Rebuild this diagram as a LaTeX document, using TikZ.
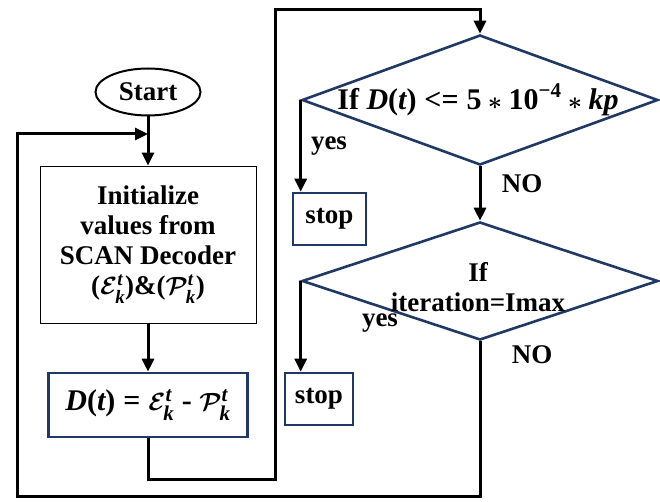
\documentclass[tikz,border=0pt]{standalone}
\usepackage{amsmath,amssymb}
\usepackage{fontspec}
\setmainfont{Liberation Serif}
\usepackage{xcolor}
\usepackage{tikz}
\usetikzlibrary{positioning, shapes.geometric, arrows.meta, calc}
\definecolor{boxblue}{HTML}{203864}
\newcommand{\vbi}[1]{\text{\bfseries\itshape #1}}
\newcommand{\vb}[1]{\text{\bfseries #1}}

\begin{document}
\begin{tikzpicture}[x=1pt, y=-1pt,
    txt/.style={font=\bfseries\boldmath\fontsize{27}{30}\selectfont, inner sep=0pt},
    mathtxt/.style={font=\bfseries\boldmath\fontsize{30}{32}\selectfont, inner sep=0pt},
    startblock/.style={ellipse, draw=black, line width=2pt, minimum width=105pt, minimum height=47pt, txt},
    initblock/.style={rectangle, draw=black, line width=0.8pt, minimum width=216pt, minimum height=157pt, txt, align=center},
    bluebox/.style={rectangle, draw=boxblue, line width=2.6pt, txt},
    decision/.style={diamond, draw=boxblue, line width=2.6pt, minimum width=356pt, minimum height=130pt, inner sep=0pt},
    arr/.style={-{Triangle[length=13pt, width=12pt]}, black, line width=3pt},
    lbl/.style={txt},
]
\useasboundingbox (0,0) rectangle (660,502);

% Left column
\node[startblock] (start) at (148,92) {Start};
\node[initblock] (init) at (148,244.5) {Initialize\\values from\\SCAN Decoder\\(${\mathcal{E}}_{\vbi{k}}^{\vbi{t}}$)\&(${\mathcal{P}}_{\vbi{k}}^{\vbi{t}}$)};
\node[bluebox, mathtxt, minimum width=199pt, minimum height=64pt] (diff) at (148,405) {$\vbi{D}\vb{(}\vbi{t}\vb{)} \mathrel{\vb{=}} \mathcal{E}_{\vbi{k}}^{\vbi{t}}$ - $\mathcal{P}_{\vbi{k}}^{\vbi{t}}$};
\coordinate (merge) at (148,134);

% Decisions
\node[decision] (cond1) at (480,100) {};
\node[mathtxt] (cond1txt) at (478,100) {If $\vbi{D}\vb{(}\vbi{t}\vb{)} \mathrel{\vb{<=}} \vb{5} \ast \vb{10}^{\vb{−4}} \ast \vbi{kp}$};
\node[decision, minimum height=118pt] (cond2) at (480,281) {};
\node[txt, align=center] (cond2txt) at (478,287) {If\\iteration=Imax};

% Stops
\node[bluebox, minimum width=73pt, minimum height=52pt] (stop1) at (329.5,219) {stop};
\node[bluebox, minimum width=68pt, minimum height=52pt] (stop2) at (319,399) {stop};

% Branch labels
\node[lbl] (yes1) at (329,146) {yes};
\node[lbl] (no1) at (522,184) {NO};
\node[lbl] (yes2) at (380,323) {yes};
\node[lbl] (no2) at (532,355) {NO};

% Arrows
\draw[arr] (start.south) -- (init.north);
\draw[arr] (init) -- (diff);
\draw[arr] (diff.south) |- (275,479) -- (275,10) -| (cond1.north);
\draw[arr] (cond1.west) -- (cond1.west |- stop1.north);
\draw[arr] (cond1.south) -- (cond2.north);
\draw[arr] (cond2.west) -- (cond2.west |- stop2.north);
\draw[arr] (cond2.south) |- (17,496) |- (merge);

\end{tikzpicture}
\end{document}
